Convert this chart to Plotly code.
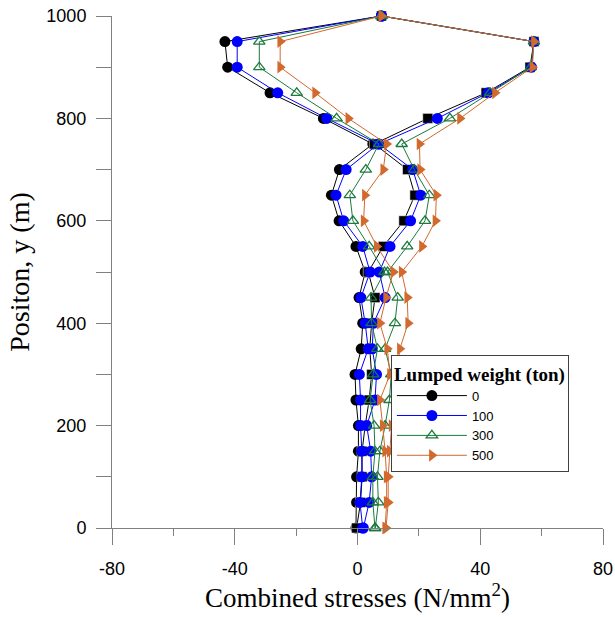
import plotly.graph_objects as go

# Position along the structure (m)
positions = [0, 50, 100, 150, 200, 250, 300, 350, 400, 450, 500,
             550, 600, 650, 700, 750, 800, 850, 900, 950, 1000]

# Combined stresses (N/mm2), two branches for each lumped weight
w0_left = [-0.5, -0.3, -0.3, 0.3, 0.3, -0.5, -0.8, 1.2, 1.7, 0.5, 2.5,
           -0.5, -6.0, -8.5, -5.9, 5.0, -11.1, -28.5, -42.3, -43.2, 7.8]
w0_right = [-0.3, 1.0, 1.5, 1.5, 2.5, 3.8, 4.6, 4.0, 4.6, 5.7, 3.5,
            8.4, 15.1, 18.7, 16.3, 5.5, 22.9, 41.9, 56.2, 57.5, 7.8]

w100_left = [1.7, 0.8, 1.4, 1.4, 1.0, 1.0, 0.6, 3.5, 2.5, 1.1, 4.1,
             1.7, -4.5, -7.0, -3.7, 6.8, -10.0, -26.0, -39.2, -39.2, 7.8]
w100_right = [1.9, 3.8, 4.6, 4.3, 3.0, 5.7, 6.2, 4.8, 5.2, 9.0, 7.1,
              10.6, 17.3, 20.6, 18.0, 7.0, 26.0, 42.6, 56.7, 57.5, 7.8]

w300_left = [5.7, 5.0, 5.0, 5.7, 5.4, 4.1, 5.1, 6.5, 4.6, 4.4, 8.8,
             3.8, -1.5, -2.5, 2.7, 7.0, -6.8, -19.8, -32.0, -32.0, 7.8]
w300_right = [5.8, 6.8, 6.5, 7.3, 9.0, 10.4, 11.0, 9.0, 12.2, 13.1, 9.8,
              16.2, 22.0, 23.4, 18.5, 14.4, 30.1, 43.2, 56.5, 57.5, 7.8]

w500_left = [9.0, 9.5, 9.5, 9.0, 8.2, 7.3, 10.6, 9.7, 7.3, 9.3, 11.7,
             6.3, 2.0, 2.4, 8.4, 9.5, -3.0, -13.8, -25.2, -25.2, 7.8]
w500_right = [9.3, 10.0, 10.0, 10.5, 11.1, 12.0, 13.0, 13.8, 16.5, 16.2, 14.4,
              21.0, 25.4, 25.7, 20.4, 20.2, 33.4, 44.8, 57.0, 57.5, 7.8]

series_names = ["0", "100", "300", "500"]
x_ticks = [-80, -40, 0, 40, 80]
y_ticks = [0, 200, 400, 600, 800, 1000]

series = [
    (series_names[0], w0_left, w0_right, "#000000",
     dict(symbol="circle", size=11, color="#000000"),
     dict(symbol="square", size=10, color="#000000", line=dict(color="#ffffff", width=0.5))),
    (series_names[1], w100_left, w100_right, "#0000ff",
     dict(symbol="circle", size=11, color="#0000ff"),
     dict(symbol="circle", size=11, color="#0000ff")),
    (series_names[2], w300_left, w300_right, "#1b7a3c",
     dict(symbol="triangle-up-open", size=10, color="#1b7a3c", line=dict(width=1.3)),
     dict(symbol="triangle-up-open", size=10, color="#1b7a3c", line=dict(width=1.3))),
    (series_names[3], w500_left, w500_right, "#d2692d",
     dict(symbol="triangle-right", size=11, color="#d2692d"),
     dict(symbol="triangle-right", size=11, color="#d2692d")),
]

fig = go.Figure()
for name, left, right, color, mk_a, mk_b in series:
    fig.add_trace(go.Scatter(
        x=left, y=positions, mode="lines+markers", name=name,
        legendgroup=name, line=dict(color=color, width=1), marker=mk_a,
        cliponaxis=False))
    fig.add_trace(go.Scatter(
        x=right, y=positions, mode="lines+markers", name=name,
        legendgroup=name, showlegend=False,
        line=dict(color=color, width=1), marker=mk_b, cliponaxis=False))

axis_color = "#808080"
serif = "Times New Roman, Liberation Serif, serif"
sans = "Arial, Liberation Sans, sans-serif"
fig.update_layout(
    width=615, height=617,
    margin=dict(l=112, r=12, t=16, b=89, autoexpand=False),
    paper_bgcolor="white", plot_bgcolor="white",
    showlegend=True,
    legend=dict(
        x=0.568, y=0.338, xanchor="left", yanchor="top",
        bgcolor="white", bordercolor="#404040", borderwidth=1,
        title=dict(text="<b>Lumped weight (ton)</b>",
                   font=dict(family=serif, size=19, color="black"),
                   side="top"),
        font=dict(family=sans, size=13, color="black"),
        tracegroupgap=0, itemwidth=70,
    ),
    xaxis=dict(
        range=[-80, 80], tickvals=x_ticks, ticktext=[str(v) for v in x_ticks],
        automargin=False,
        showgrid=False, zeroline=False, showline=True, linecolor=axis_color,
        linewidth=1, ticks="outside", ticklen=16, tickcolor=axis_color,
        ticklabelstandoff=8,
        minor=dict(dtick=20, ticks="outside", ticklen=7, tickcolor=axis_color,
                   showgrid=False),
        tickfont=dict(family=sans, size=18, color="black"),
        title=dict(text="Combined stresses (N/mm<sup>2</sup>)",
                   font=dict(family=serif, size=27, color="black"),
                   standoff=2),
    ),
    yaxis=dict(
        range=[0, 1000], tickvals=y_ticks, ticktext=[str(v) for v in y_ticks],
        automargin=False,
        showgrid=False, zeroline=False, showline=True, linecolor=axis_color,
        linewidth=1, ticks="outside", ticklen=15, tickcolor=axis_color,
        ticklabelstandoff=6,
        minor=dict(dtick=100, ticks="outside", ticklen=15, tickcolor=axis_color,
                   showgrid=False),
        tickfont=dict(family=sans, size=18, color="black"),
        title=dict(text="Positon, y (m)",
                   font=dict(family=serif, size=28, color="black"),
                   standoff=8),
    ),
)

fig.write_html("out.html", config={"displayModeBar": False},
               post_script="document.body.style.margin='0';")
